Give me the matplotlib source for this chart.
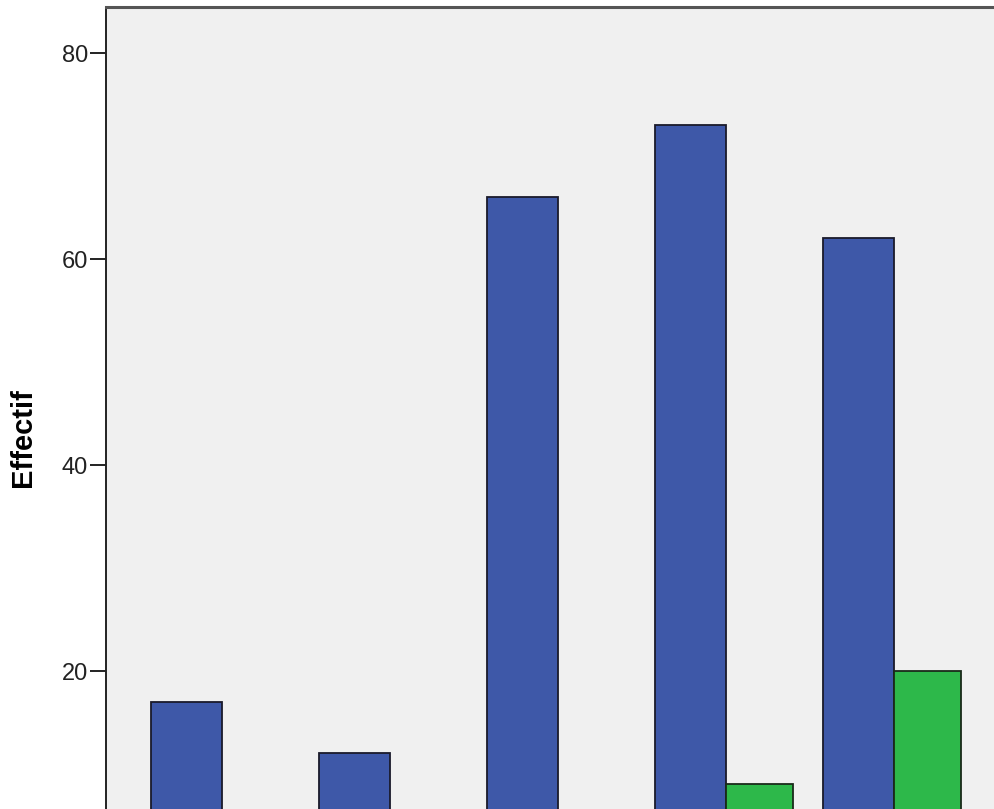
import matplotlib.pyplot as plt
import numpy as np

plt.rcParams['font.family'] = ['Liberation Sans', 'DejaVu Sans']

# counts per group (groups cut off at the bottom of the picture)
groups = [1, 2, 3, 4, 5]
blue_vals = [17, 12, 66, 73, 62]
green_vals = [0, 0, 0, 9, 20]
yticks = [20, 40, 60, 80]

W, H = 995, 809
fig = plt.figure(figsize=(W / 100, H / 100), dpi=100)

# axes placed so that the chart is cropped like the reference
left_px, top_px, zero_px, right_px = 106, 7, 877, 1010
ax = fig.add_axes([left_px / W, (H - zero_px) / H,
                   (right_px - left_px) / W, (zero_px - top_px) / H])
ax.set_facecolor('#f0f0f0')

x = np.array(groups)
w = 0.42
ax.bar(x - w / 2, blue_vals, w, color='#3e58a8', edgecolor='#1a1a2a', linewidth=1.3)
ax.bar(x + w / 2 - 0.01, green_vals, w - 0.02, color='#2db84a', edgecolor='#1a2a1a', linewidth=1.3)

ax.set_xlim(0.31, 5.69)
ax.set_ylim(0, 80 + (53 - top_px) / 10.3)
ax.set_yticks(yticks)
ax.set_xticks([])
ax.tick_params(axis='y', length=11.5, width=1.4, pad=1.5, labelsize=17, colors='#222222')

fig.text(23 / W, 1 - 438 / H, 'Effectif', rotation=90, ha='center', va='center',
         fontsize=21, fontweight='bold')

for s in ax.spines.values():
    s.set_linewidth(1.4)
    s.set_color('#222222')
ax.spines['top'].set_linewidth(2.2)
ax.spines['top'].set_color('#555555')

fig.savefig('out.png', dpi=100)
